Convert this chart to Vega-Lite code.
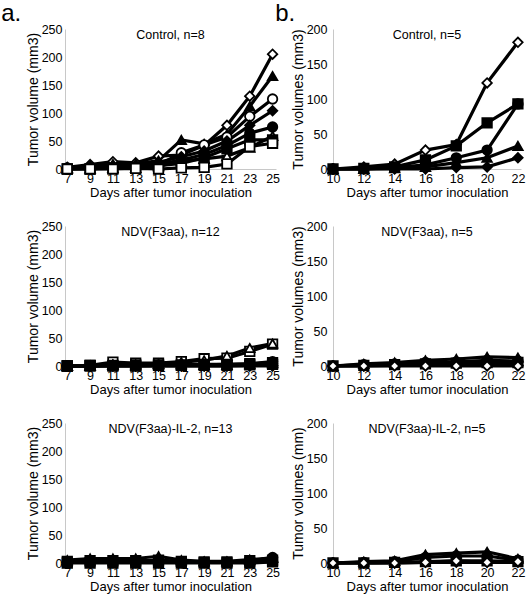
{
  "$schema": "https://vega.github.io/schema/vega-lite/v6.json",
  "padding": {"left": 1, "top": 2, "right": 0, "bottom": 0},
  "config": {
    "font": "Liberation Sans",
    "view": {"stroke": null},
    "axis": {"grid": false, "ticks": false, "domainColor": "#c8c8c8", "domainWidth": 1, "labelFontSize": 12.5, "titleFontSize": 13, "titleFontWeight": "normal", "labelColor": "black", "titleColor": "black", "labelFlush": false, "labelPadding": 3, "titlePadding": 2, "labelFont": "Liberation Sans", "titleFont": "Liberation Sans"},
    "axisY": {"titleFontSize": 14, "titlePadding": 1}
  },
  "spacing": -6,
  "datasets": {
    "a1": [
      {"mouse": "1", "marker": "open diamond", "day": 7, "vol": 3}, {"mouse": "1", "marker": "open diamond", "day": 9, "vol": 8}, {"mouse": "1", "marker": "open diamond", "day": 11, "vol": 13}, {"mouse": "1", "marker": "open diamond", "day": 13, "vol": 11}, {"mouse": "1", "marker": "open diamond", "day": 15, "vol": 23}, {"mouse": "1", "marker": "open diamond", "day": 17, "vol": 25}, {"mouse": "1", "marker": "open diamond", "day": 19, "vol": 42}, {"mouse": "1", "marker": "open diamond", "day": 21, "vol": 78}, {"mouse": "1", "marker": "open diamond", "day": 23, "vol": 130}, {"mouse": "1", "marker": "open diamond", "day": 25, "vol": 205},
      {"mouse": "2", "marker": "filled triangle", "day": 7, "vol": 2}, {"mouse": "2", "marker": "filled triangle", "day": 9, "vol": 6}, {"mouse": "2", "marker": "filled triangle", "day": 11, "vol": 9}, {"mouse": "2", "marker": "filled triangle", "day": 13, "vol": 9}, {"mouse": "2", "marker": "filled triangle", "day": 15, "vol": 15}, {"mouse": "2", "marker": "filled triangle", "day": 17, "vol": 52}, {"mouse": "2", "marker": "filled triangle", "day": 19, "vol": 45}, {"mouse": "2", "marker": "filled triangle", "day": 21, "vol": 62}, {"mouse": "2", "marker": "filled triangle", "day": 23, "vol": 112}, {"mouse": "2", "marker": "filled triangle", "day": 25, "vol": 166},
      {"mouse": "3", "marker": "open circle", "day": 7, "vol": 2}, {"mouse": "3", "marker": "open circle", "day": 9, "vol": 3}, {"mouse": "3", "marker": "open circle", "day": 11, "vol": 3}, {"mouse": "3", "marker": "open circle", "day": 13, "vol": 4}, {"mouse": "3", "marker": "open circle", "day": 15, "vol": 7}, {"mouse": "3", "marker": "open circle", "day": 17, "vol": 29}, {"mouse": "3", "marker": "open circle", "day": 19, "vol": 43}, {"mouse": "3", "marker": "open circle", "day": 21, "vol": 57}, {"mouse": "3", "marker": "open circle", "day": 23, "vol": 94}, {"mouse": "3", "marker": "open circle", "day": 25, "vol": 125},
      {"mouse": "4", "marker": "filled diamond", "day": 7, "vol": 1}, {"mouse": "4", "marker": "filled diamond", "day": 9, "vol": 3}, {"mouse": "4", "marker": "filled diamond", "day": 11, "vol": 5}, {"mouse": "4", "marker": "filled diamond", "day": 13, "vol": 6}, {"mouse": "4", "marker": "filled diamond", "day": 15, "vol": 12}, {"mouse": "4", "marker": "filled diamond", "day": 17, "vol": 22}, {"mouse": "4", "marker": "filled diamond", "day": 19, "vol": 32}, {"mouse": "4", "marker": "filled diamond", "day": 21, "vol": 50}, {"mouse": "4", "marker": "filled diamond", "day": 23, "vol": 78}, {"mouse": "4", "marker": "filled diamond", "day": 25, "vol": 104},
      {"mouse": "5", "marker": "filled circle", "day": 7, "vol": 0}, {"mouse": "5", "marker": "filled circle", "day": 9, "vol": 1}, {"mouse": "5", "marker": "filled circle", "day": 11, "vol": 2}, {"mouse": "5", "marker": "filled circle", "day": 13, "vol": 3}, {"mouse": "5", "marker": "filled circle", "day": 15, "vol": 9}, {"mouse": "5", "marker": "filled circle", "day": 17, "vol": 16}, {"mouse": "5", "marker": "filled circle", "day": 19, "vol": 26}, {"mouse": "5", "marker": "filled circle", "day": 21, "vol": 42}, {"mouse": "5", "marker": "filled circle", "day": 23, "vol": 64}, {"mouse": "5", "marker": "filled circle", "day": 25, "vol": 75},
      {"mouse": "6", "marker": "open triangle", "day": 7, "vol": 0}, {"mouse": "6", "marker": "open triangle", "day": 9, "vol": 1}, {"mouse": "6", "marker": "open triangle", "day": 11, "vol": 2}, {"mouse": "6", "marker": "open triangle", "day": 13, "vol": 2}, {"mouse": "6", "marker": "open triangle", "day": 15, "vol": 5}, {"mouse": "6", "marker": "open triangle", "day": 17, "vol": 14}, {"mouse": "6", "marker": "open triangle", "day": 19, "vol": 18}, {"mouse": "6", "marker": "open triangle", "day": 21, "vol": 23}, {"mouse": "6", "marker": "open triangle", "day": 23, "vol": 38}, {"mouse": "6", "marker": "open triangle", "day": 25, "vol": 59},
      {"mouse": "7", "marker": "filled square", "day": 7, "vol": 0}, {"mouse": "7", "marker": "filled square", "day": 9, "vol": 0}, {"mouse": "7", "marker": "filled square", "day": 11, "vol": 1}, {"mouse": "7", "marker": "filled square", "day": 13, "vol": 2}, {"mouse": "7", "marker": "filled square", "day": 15, "vol": 6}, {"mouse": "7", "marker": "filled square", "day": 17, "vol": 10}, {"mouse": "7", "marker": "filled square", "day": 19, "vol": 20}, {"mouse": "7", "marker": "filled square", "day": 21, "vol": 36}, {"mouse": "7", "marker": "filled square", "day": 23, "vol": 52}, {"mouse": "7", "marker": "filled square", "day": 25, "vol": 52},
      {"mouse": "8", "marker": "open square", "day": 7, "vol": 0}, {"mouse": "8", "marker": "open square", "day": 9, "vol": 0}, {"mouse": "8", "marker": "open square", "day": 11, "vol": 0}, {"mouse": "8", "marker": "open square", "day": 13, "vol": 1}, {"mouse": "8", "marker": "open square", "day": 15, "vol": 0}, {"mouse": "8", "marker": "open square", "day": 17, "vol": 2}, {"mouse": "8", "marker": "open square", "day": 19, "vol": 3}, {"mouse": "8", "marker": "open square", "day": 21, "vol": 9}, {"mouse": "8", "marker": "open square", "day": 23, "vol": 40}, {"mouse": "8", "marker": "open square", "day": 25, "vol": 46}
    ],
    "a2": [
      {"mouse": "1", "marker": "open diamond", "day": 7, "vol": 0}, {"mouse": "1", "marker": "open diamond", "day": 9, "vol": 0}, {"mouse": "1", "marker": "open diamond", "day": 11, "vol": 0}, {"mouse": "1", "marker": "open diamond", "day": 13, "vol": 0}, {"mouse": "1", "marker": "open diamond", "day": 15, "vol": 0}, {"mouse": "1", "marker": "open diamond", "day": 17, "vol": 0}, {"mouse": "1", "marker": "open diamond", "day": 19, "vol": 0}, {"mouse": "1", "marker": "open diamond", "day": 21, "vol": 0}, {"mouse": "1", "marker": "open diamond", "day": 23, "vol": 0}, {"mouse": "1", "marker": "open diamond", "day": 25, "vol": 0},
      {"mouse": "2", "marker": "open circle", "day": 7, "vol": 0}, {"mouse": "2", "marker": "open circle", "day": 9, "vol": 0}, {"mouse": "2", "marker": "open circle", "day": 11, "vol": 1}, {"mouse": "2", "marker": "open circle", "day": 13, "vol": 1}, {"mouse": "2", "marker": "open circle", "day": 15, "vol": 1}, {"mouse": "2", "marker": "open circle", "day": 17, "vol": 2}, {"mouse": "2", "marker": "open circle", "day": 19, "vol": 2}, {"mouse": "2", "marker": "open circle", "day": 21, "vol": 3}, {"mouse": "2", "marker": "open circle", "day": 23, "vol": 3}, {"mouse": "2", "marker": "open circle", "day": 25, "vol": 4},
      {"mouse": "3", "marker": "open square", "day": 7, "vol": 0}, {"mouse": "3", "marker": "open square", "day": 9, "vol": 1}, {"mouse": "3", "marker": "open square", "day": 11, "vol": 7}, {"mouse": "3", "marker": "open square", "day": 13, "vol": 5}, {"mouse": "3", "marker": "open square", "day": 15, "vol": 5}, {"mouse": "3", "marker": "open square", "day": 17, "vol": 8}, {"mouse": "3", "marker": "open square", "day": 19, "vol": 13}, {"mouse": "3", "marker": "open square", "day": 21, "vol": 14}, {"mouse": "3", "marker": "open square", "day": 23, "vol": 26}, {"mouse": "3", "marker": "open square", "day": 25, "vol": 39},
      {"mouse": "4", "marker": "open triangle", "day": 7, "vol": 0}, {"mouse": "4", "marker": "open triangle", "day": 9, "vol": 1}, {"mouse": "4", "marker": "open triangle", "day": 11, "vol": 3}, {"mouse": "4", "marker": "open triangle", "day": 13, "vol": 3}, {"mouse": "4", "marker": "open triangle", "day": 15, "vol": 4}, {"mouse": "4", "marker": "open triangle", "day": 17, "vol": 7}, {"mouse": "4", "marker": "open triangle", "day": 19, "vol": 10}, {"mouse": "4", "marker": "open triangle", "day": 21, "vol": 18}, {"mouse": "4", "marker": "open triangle", "day": 23, "vol": 32}, {"mouse": "4", "marker": "open triangle", "day": 25, "vol": 40},
      {"mouse": "5", "marker": "filled triangle", "day": 7, "vol": 0}, {"mouse": "5", "marker": "filled triangle", "day": 9, "vol": 0}, {"mouse": "5", "marker": "filled triangle", "day": 11, "vol": 2}, {"mouse": "5", "marker": "filled triangle", "day": 13, "vol": 1}, {"mouse": "5", "marker": "filled triangle", "day": 15, "vol": 3}, {"mouse": "5", "marker": "filled triangle", "day": 17, "vol": 3}, {"mouse": "5", "marker": "filled triangle", "day": 19, "vol": 2}, {"mouse": "5", "marker": "filled triangle", "day": 21, "vol": 2}, {"mouse": "5", "marker": "filled triangle", "day": 23, "vol": 3}, {"mouse": "5", "marker": "filled triangle", "day": 25, "vol": 5},
      {"mouse": "6", "marker": "filled diamond", "day": 7, "vol": 0}, {"mouse": "6", "marker": "filled diamond", "day": 9, "vol": 0}, {"mouse": "6", "marker": "filled diamond", "day": 11, "vol": 0}, {"mouse": "6", "marker": "filled diamond", "day": 13, "vol": 0}, {"mouse": "6", "marker": "filled diamond", "day": 15, "vol": 0}, {"mouse": "6", "marker": "filled diamond", "day": 17, "vol": 0}, {"mouse": "6", "marker": "filled diamond", "day": 19, "vol": 0}, {"mouse": "6", "marker": "filled diamond", "day": 21, "vol": 0}, {"mouse": "6", "marker": "filled diamond", "day": 23, "vol": 1}, {"mouse": "6", "marker": "filled diamond", "day": 25, "vol": 1},
      {"mouse": "7", "marker": "filled circle", "day": 7, "vol": 0}, {"mouse": "7", "marker": "filled circle", "day": 9, "vol": 0}, {"mouse": "7", "marker": "filled circle", "day": 11, "vol": 1}, {"mouse": "7", "marker": "filled circle", "day": 13, "vol": 1}, {"mouse": "7", "marker": "filled circle", "day": 15, "vol": 1}, {"mouse": "7", "marker": "filled circle", "day": 17, "vol": 1}, {"mouse": "7", "marker": "filled circle", "day": 19, "vol": 2}, {"mouse": "7", "marker": "filled circle", "day": 21, "vol": 2}, {"mouse": "7", "marker": "filled circle", "day": 23, "vol": 4}, {"mouse": "7", "marker": "filled circle", "day": 25, "vol": 8},
      {"mouse": "8", "marker": "filled square", "day": 7, "vol": 0}, {"mouse": "8", "marker": "filled square", "day": 9, "vol": 1}, {"mouse": "8", "marker": "filled square", "day": 11, "vol": 1}, {"mouse": "8", "marker": "filled square", "day": 13, "vol": 2}, {"mouse": "8", "marker": "filled square", "day": 15, "vol": 2}, {"mouse": "8", "marker": "filled square", "day": 17, "vol": 2}, {"mouse": "8", "marker": "filled square", "day": 19, "vol": 3}, {"mouse": "8", "marker": "filled square", "day": 21, "vol": 3}, {"mouse": "8", "marker": "filled square", "day": 23, "vol": 4}, {"mouse": "8", "marker": "filled square", "day": 25, "vol": 6},
      {"mouse": "9", "marker": "filled square", "day": 7, "vol": 0}, {"mouse": "9", "marker": "filled square", "day": 9, "vol": 0}, {"mouse": "9", "marker": "filled square", "day": 11, "vol": 0}, {"mouse": "9", "marker": "filled square", "day": 13, "vol": 0}, {"mouse": "9", "marker": "filled square", "day": 15, "vol": 1}, {"mouse": "9", "marker": "filled square", "day": 17, "vol": 1}, {"mouse": "9", "marker": "filled square", "day": 19, "vol": 1}, {"mouse": "9", "marker": "filled square", "day": 21, "vol": 1}, {"mouse": "9", "marker": "filled square", "day": 23, "vol": 2}, {"mouse": "9", "marker": "filled square", "day": 25, "vol": 3}
    ],
    "a3": [
      {"mouse": "1", "marker": "filled triangle", "day": 7, "vol": 5}, {"mouse": "1", "marker": "filled triangle", "day": 9, "vol": 8}, {"mouse": "1", "marker": "filled triangle", "day": 11, "vol": 8}, {"mouse": "1", "marker": "filled triangle", "day": 13, "vol": 8}, {"mouse": "1", "marker": "filled triangle", "day": 15, "vol": 12}, {"mouse": "1", "marker": "filled triangle", "day": 17, "vol": 5}, {"mouse": "1", "marker": "filled triangle", "day": 19, "vol": 3}, {"mouse": "1", "marker": "filled triangle", "day": 21, "vol": 3}, {"mouse": "1", "marker": "filled triangle", "day": 23, "vol": 6}, {"mouse": "1", "marker": "filled triangle", "day": 25, "vol": 9},
      {"mouse": "2", "marker": "filled circle", "day": 7, "vol": 2}, {"mouse": "2", "marker": "filled circle", "day": 9, "vol": 3}, {"mouse": "2", "marker": "filled circle", "day": 11, "vol": 3}, {"mouse": "2", "marker": "filled circle", "day": 13, "vol": 3}, {"mouse": "2", "marker": "filled circle", "day": 15, "vol": 4}, {"mouse": "2", "marker": "filled circle", "day": 17, "vol": 2}, {"mouse": "2", "marker": "filled circle", "day": 19, "vol": 1}, {"mouse": "2", "marker": "filled circle", "day": 21, "vol": 1}, {"mouse": "2", "marker": "filled circle", "day": 23, "vol": 3}, {"mouse": "2", "marker": "filled circle", "day": 25, "vol": 10},
      {"mouse": "3", "marker": "filled square", "day": 7, "vol": 0}, {"mouse": "3", "marker": "filled square", "day": 9, "vol": 0}, {"mouse": "3", "marker": "filled square", "day": 11, "vol": 0}, {"mouse": "3", "marker": "filled square", "day": 13, "vol": 0}, {"mouse": "3", "marker": "filled square", "day": 15, "vol": 0}, {"mouse": "3", "marker": "filled square", "day": 17, "vol": 0}, {"mouse": "3", "marker": "filled square", "day": 19, "vol": 0}, {"mouse": "3", "marker": "filled square", "day": 21, "vol": 0}, {"mouse": "3", "marker": "filled square", "day": 23, "vol": 0}, {"mouse": "3", "marker": "filled square", "day": 25, "vol": 2},
      {"mouse": "4", "marker": "filled diamond", "day": 7, "vol": 1}, {"mouse": "4", "marker": "filled diamond", "day": 9, "vol": 1}, {"mouse": "4", "marker": "filled diamond", "day": 11, "vol": 1}, {"mouse": "4", "marker": "filled diamond", "day": 13, "vol": 1}, {"mouse": "4", "marker": "filled diamond", "day": 15, "vol": 1}, {"mouse": "4", "marker": "filled diamond", "day": 17, "vol": 1}, {"mouse": "4", "marker": "filled diamond", "day": 19, "vol": 1}, {"mouse": "4", "marker": "filled diamond", "day": 21, "vol": 1}, {"mouse": "4", "marker": "filled diamond", "day": 23, "vol": 1}, {"mouse": "4", "marker": "filled diamond", "day": 25, "vol": 3},
      {"mouse": "5", "marker": "filled square", "day": 7, "vol": 3}, {"mouse": "5", "marker": "filled square", "day": 9, "vol": 4}, {"mouse": "5", "marker": "filled square", "day": 11, "vol": 4}, {"mouse": "5", "marker": "filled square", "day": 13, "vol": 4}, {"mouse": "5", "marker": "filled square", "day": 15, "vol": 5}, {"mouse": "5", "marker": "filled square", "day": 17, "vol": 3}, {"mouse": "5", "marker": "filled square", "day": 19, "vol": 2}, {"mouse": "5", "marker": "filled square", "day": 21, "vol": 2}, {"mouse": "5", "marker": "filled square", "day": 23, "vol": 4}, {"mouse": "5", "marker": "filled square", "day": 25, "vol": 5}
    ],
    "b1": [
      {"mouse": "1", "marker": "open diamond", "day": 10, "vol": 0}, {"mouse": "1", "marker": "open diamond", "day": 12, "vol": 3}, {"mouse": "1", "marker": "open diamond", "day": 14, "vol": 7}, {"mouse": "1", "marker": "open diamond", "day": 16, "vol": 27}, {"mouse": "1", "marker": "open diamond", "day": 18, "vol": 35}, {"mouse": "1", "marker": "open diamond", "day": 20, "vol": 123}, {"mouse": "1", "marker": "open diamond", "day": 22, "vol": 181},
      {"mouse": "2", "marker": "filled square", "day": 10, "vol": 0}, {"mouse": "2", "marker": "filled square", "day": 12, "vol": 1}, {"mouse": "2", "marker": "filled square", "day": 14, "vol": 3}, {"mouse": "2", "marker": "filled square", "day": 16, "vol": 13}, {"mouse": "2", "marker": "filled square", "day": 18, "vol": 33}, {"mouse": "2", "marker": "filled square", "day": 20, "vol": 66}, {"mouse": "2", "marker": "filled square", "day": 22, "vol": 93},
      {"mouse": "3", "marker": "filled circle", "day": 10, "vol": 0}, {"mouse": "3", "marker": "filled circle", "day": 12, "vol": 0}, {"mouse": "3", "marker": "filled circle", "day": 14, "vol": 2}, {"mouse": "3", "marker": "filled circle", "day": 16, "vol": 6}, {"mouse": "3", "marker": "filled circle", "day": 18, "vol": 16}, {"mouse": "3", "marker": "filled circle", "day": 20, "vol": 27}, {"mouse": "3", "marker": "filled circle", "day": 22, "vol": 93},
      {"mouse": "4", "marker": "filled triangle", "day": 10, "vol": 0}, {"mouse": "4", "marker": "filled triangle", "day": 12, "vol": 0}, {"mouse": "4", "marker": "filled triangle", "day": 14, "vol": 1}, {"mouse": "4", "marker": "filled triangle", "day": 16, "vol": 3}, {"mouse": "4", "marker": "filled triangle", "day": 18, "vol": 9}, {"mouse": "4", "marker": "filled triangle", "day": 20, "vol": 16}, {"mouse": "4", "marker": "filled triangle", "day": 22, "vol": 33},
      {"mouse": "5", "marker": "filled diamond", "day": 10, "vol": 0}, {"mouse": "5", "marker": "filled diamond", "day": 12, "vol": 0}, {"mouse": "5", "marker": "filled diamond", "day": 14, "vol": 0}, {"mouse": "5", "marker": "filled diamond", "day": 16, "vol": 0}, {"mouse": "5", "marker": "filled diamond", "day": 18, "vol": 2}, {"mouse": "5", "marker": "filled diamond", "day": 20, "vol": 3}, {"mouse": "5", "marker": "filled diamond", "day": 22, "vol": 16}
    ],
    "b2": [
      {"mouse": "1", "marker": "filled triangle", "day": 10, "vol": 0}, {"mouse": "1", "marker": "filled triangle", "day": 12, "vol": 3}, {"mouse": "1", "marker": "filled triangle", "day": 14, "vol": 5}, {"mouse": "1", "marker": "filled triangle", "day": 16, "vol": 8}, {"mouse": "1", "marker": "filled triangle", "day": 18, "vol": 10}, {"mouse": "1", "marker": "filled triangle", "day": 20, "vol": 13}, {"mouse": "1", "marker": "filled triangle", "day": 22, "vol": 12},
      {"mouse": "2", "marker": "filled circle", "day": 10, "vol": 0}, {"mouse": "2", "marker": "filled circle", "day": 12, "vol": 2}, {"mouse": "2", "marker": "filled circle", "day": 14, "vol": 3}, {"mouse": "2", "marker": "filled circle", "day": 16, "vol": 5}, {"mouse": "2", "marker": "filled circle", "day": 18, "vol": 6}, {"mouse": "2", "marker": "filled circle", "day": 20, "vol": 8}, {"mouse": "2", "marker": "filled circle", "day": 22, "vol": 7},
      {"mouse": "3", "marker": "filled square", "day": 10, "vol": 0}, {"mouse": "3", "marker": "filled square", "day": 12, "vol": 1}, {"mouse": "3", "marker": "filled square", "day": 14, "vol": 2}, {"mouse": "3", "marker": "filled square", "day": 16, "vol": 3}, {"mouse": "3", "marker": "filled square", "day": 18, "vol": 4}, {"mouse": "3", "marker": "filled square", "day": 20, "vol": 5}, {"mouse": "3", "marker": "filled square", "day": 22, "vol": 5},
      {"mouse": "4", "marker": "filled diamond", "day": 10, "vol": 0}, {"mouse": "4", "marker": "filled diamond", "day": 12, "vol": 0}, {"mouse": "4", "marker": "filled diamond", "day": 14, "vol": 1}, {"mouse": "4", "marker": "filled diamond", "day": 16, "vol": 1}, {"mouse": "4", "marker": "filled diamond", "day": 18, "vol": 1}, {"mouse": "4", "marker": "filled diamond", "day": 20, "vol": 1}, {"mouse": "4", "marker": "filled diamond", "day": 22, "vol": 1},
      {"mouse": "5", "marker": "open diamond", "day": 10, "vol": 0}, {"mouse": "5", "marker": "open diamond", "day": 12, "vol": 0}, {"mouse": "5", "marker": "open diamond", "day": 14, "vol": 0}, {"mouse": "5", "marker": "open diamond", "day": 16, "vol": 0}, {"mouse": "5", "marker": "open diamond", "day": 18, "vol": 0}, {"mouse": "5", "marker": "open diamond", "day": 20, "vol": 0}, {"mouse": "5", "marker": "open diamond", "day": 22, "vol": 0}
    ],
    "b3": [
      {"mouse": "1", "marker": "filled triangle", "day": 10, "vol": 0}, {"mouse": "1", "marker": "filled triangle", "day": 12, "vol": 2}, {"mouse": "1", "marker": "filled triangle", "day": 14, "vol": 3}, {"mouse": "1", "marker": "filled triangle", "day": 16, "vol": 12}, {"mouse": "1", "marker": "filled triangle", "day": 18, "vol": 14}, {"mouse": "1", "marker": "filled triangle", "day": 20, "vol": 16}, {"mouse": "1", "marker": "filled triangle", "day": 22, "vol": 6},
      {"mouse": "2", "marker": "filled circle", "day": 10, "vol": 0}, {"mouse": "2", "marker": "filled circle", "day": 12, "vol": 1}, {"mouse": "2", "marker": "filled circle", "day": 14, "vol": 2}, {"mouse": "2", "marker": "filled circle", "day": 16, "vol": 8}, {"mouse": "2", "marker": "filled circle", "day": 18, "vol": 10}, {"mouse": "2", "marker": "filled circle", "day": 20, "vol": 10}, {"mouse": "2", "marker": "filled circle", "day": 22, "vol": 4},
      {"mouse": "3", "marker": "filled square", "day": 10, "vol": 0}, {"mouse": "3", "marker": "filled square", "day": 12, "vol": 0}, {"mouse": "3", "marker": "filled square", "day": 14, "vol": 1}, {"mouse": "3", "marker": "filled square", "day": 16, "vol": 2}, {"mouse": "3", "marker": "filled square", "day": 18, "vol": 3}, {"mouse": "3", "marker": "filled square", "day": 20, "vol": 3}, {"mouse": "3", "marker": "filled square", "day": 22, "vol": 2},
      {"mouse": "4", "marker": "filled diamond", "day": 10, "vol": 0}, {"mouse": "4", "marker": "filled diamond", "day": 12, "vol": 0}, {"mouse": "4", "marker": "filled diamond", "day": 14, "vol": 0}, {"mouse": "4", "marker": "filled diamond", "day": 16, "vol": 1}, {"mouse": "4", "marker": "filled diamond", "day": 18, "vol": 1}, {"mouse": "4", "marker": "filled diamond", "day": 20, "vol": 1}, {"mouse": "4", "marker": "filled diamond", "day": 22, "vol": 1},
      {"mouse": "5", "marker": "open diamond", "day": 10, "vol": 0}, {"mouse": "5", "marker": "open diamond", "day": 12, "vol": 0}, {"mouse": "5", "marker": "open diamond", "day": 14, "vol": 0}, {"mouse": "5", "marker": "open diamond", "day": 16, "vol": 1}, {"mouse": "5", "marker": "open diamond", "day": 18, "vol": 3}, {"mouse": "5", "marker": "open diamond", "day": 20, "vol": 1}, {"mouse": "5", "marker": "open diamond", "day": 22, "vol": 2}
    ]
  },
  "hconcat": [
    {
      "title": {"text": "a.", "anchor": "start", "frame": "bounds", "fontSize": 24, "fontWeight": "normal", "dx": -25, "offset": -3},
      "spacing": 20,
      "vconcat": [
        {
          "width": 211, "height": 140,
          "title": {"text": "Control, n=8", "fontSize": 12.5, "fontWeight": "normal", "offset": -18},
          "data": {"name": "a1"},
          "encoding": {
            "x": {"field": "day", "type": "quantitative", "scale": {"domain": [6.8, 25.3], "nice": false, "zero": false}, "axis": {"values": [7, 9, 11, 13, 15, 17, 19, 21, 23, 25], "title": "Days after tumor inoculation"}},
            "y": {"field": "vol", "type": "quantitative", "scale": {"domain": [0, 250], "nice": false}, "axis": {"values": [0, 50, 100, 150, 200, 250], "title": "Tumor volume (mm3)"}}
          },
          "layer": [
            {"mark": {"type": "line", "color": "black", "strokeWidth": 3.2}, "encoding": {"detail": {"field": "mouse"}}},
            {"mark": {"type": "point", "filled": true, "stroke": "black", "strokeWidth": 1.8, "size": 90, "opacity": 1},
             "encoding": {
               "shape": {"field": "marker", "type": "nominal", "legend": null, "scale": {"domain": ["open diamond", "filled diamond", "open circle", "filled circle", "open triangle", "filled triangle", "open square", "filled square"], "range": ["diamond", "diamond", "circle", "circle", "triangle-up", "triangle-up", "square", "square"]}},
               "fill": {"field": "marker", "type": "nominal", "legend": null, "scale": {"domain": ["open diamond", "filled diamond", "open circle", "filled circle", "open triangle", "filled triangle", "open square", "filled square"], "range": ["white", "black", "white", "black", "white", "black", "white", "black"]}}
             }}
          ]
        },
        {
          "width": 211, "height": 140,
          "title": {"text": "NDV(F3aa), n=12", "fontSize": 12.5, "fontWeight": "normal", "offset": -18},
          "data": {"name": "a2"},
          "encoding": {
            "x": {"field": "day", "type": "quantitative", "scale": {"domain": [6.8, 25.3], "nice": false, "zero": false}, "axis": {"values": [7, 9, 11, 13, 15, 17, 19, 21, 23, 25], "title": "Days after tumor inoculation"}},
            "y": {"field": "vol", "type": "quantitative", "scale": {"domain": [0, 250], "nice": false}, "axis": {"values": [0, 50, 100, 150, 200, 250], "title": "Tumor volume (mm3)"}}
          },
          "layer": [
            {"mark": {"type": "line", "color": "black", "strokeWidth": 3.2}, "encoding": {"detail": {"field": "mouse"}}},
            {"mark": {"type": "point", "filled": true, "stroke": "black", "strokeWidth": 1.8, "size": 90, "opacity": 1},
             "encoding": {
               "shape": {"field": "marker", "type": "nominal", "legend": null, "scale": {"domain": ["open diamond", "filled diamond", "open circle", "filled circle", "open triangle", "filled triangle", "open square", "filled square"], "range": ["diamond", "diamond", "circle", "circle", "triangle-up", "triangle-up", "square", "square"]}},
               "fill": {"field": "marker", "type": "nominal", "legend": null, "scale": {"domain": ["open diamond", "filled diamond", "open circle", "filled circle", "open triangle", "filled triangle", "open square", "filled square"], "range": ["white", "black", "white", "black", "white", "black", "white", "black"]}}
             }}
          ]
        },
        {
          "width": 211, "height": 140,
          "title": {"text": "NDV(F3aa)-IL-2, n=13", "fontSize": 12.5, "fontWeight": "normal", "offset": -18},
          "data": {"name": "a3"},
          "encoding": {
            "x": {"field": "day", "type": "quantitative", "scale": {"domain": [6.8, 25.3], "nice": false, "zero": false}, "axis": {"values": [7, 9, 11, 13, 15, 17, 19, 21, 23, 25], "title": "Days after tumor inoculation"}},
            "y": {"field": "vol", "type": "quantitative", "scale": {"domain": [0, 250], "nice": false}, "axis": {"values": [0, 50, 100, 150, 200, 250], "title": "Tumor volume (mm3)"}}
          },
          "layer": [
            {"mark": {"type": "line", "color": "black", "strokeWidth": 3.2}, "encoding": {"detail": {"field": "mouse"}}},
            {"mark": {"type": "point", "filled": true, "stroke": "black", "strokeWidth": 1.8, "size": 90, "opacity": 1},
             "encoding": {
               "shape": {"field": "marker", "type": "nominal", "legend": null, "scale": {"domain": ["open diamond", "filled diamond", "open circle", "filled circle", "open triangle", "filled triangle", "open square", "filled square"], "range": ["diamond", "diamond", "circle", "circle", "triangle-up", "triangle-up", "square", "square"]}},
               "fill": {"field": "marker", "type": "nominal", "legend": null, "scale": {"domain": ["open diamond", "filled diamond", "open circle", "filled circle", "open triangle", "filled triangle", "open square", "filled square"], "range": ["white", "black", "white", "black", "white", "black", "white", "black"]}}
             }}
          ]
        }
      ]
    },
    {
      "title": {"text": "b.", "anchor": "start", "frame": "bounds", "fontSize": 24, "fontWeight": "normal", "dx": -16, "offset": -3},
      "spacing": 20,
      "vconcat": [
        {
          "width": 188, "height": 140,
          "title": {"text": "Control, n=5", "fontSize": 12.5, "fontWeight": "normal", "offset": -18},
          "data": {"name": "b1"},
          "encoding": {
            "x": {"field": "day", "type": "quantitative", "scale": {"domain": [10, 22.2], "nice": false, "zero": false}, "axis": {"values": [10, 12, 14, 16, 18, 20, 22], "title": "Days after tumor inoculation"}},
            "y": {"field": "vol", "type": "quantitative", "scale": {"domain": [0, 200], "nice": false}, "axis": {"values": [0, 50, 100, 150, 200], "title": "Tumor volumes (mm3)", "labelPadding": 6}}
          },
          "layer": [
            {"mark": {"type": "line", "color": "black", "strokeWidth": 3.2}, "encoding": {"detail": {"field": "mouse"}}},
            {"mark": {"type": "point", "filled": true, "stroke": "black", "strokeWidth": 1.8, "size": 90, "opacity": 1},
             "encoding": {
               "shape": {"field": "marker", "type": "nominal", "legend": null, "scale": {"domain": ["open diamond", "filled diamond", "open circle", "filled circle", "open triangle", "filled triangle", "open square", "filled square"], "range": ["diamond", "diamond", "circle", "circle", "triangle-up", "triangle-up", "square", "square"]}},
               "fill": {"field": "marker", "type": "nominal", "legend": null, "scale": {"domain": ["open diamond", "filled diamond", "open circle", "filled circle", "open triangle", "filled triangle", "open square", "filled square"], "range": ["white", "black", "white", "black", "white", "black", "white", "black"]}}
             }}
          ]
        },
        {
          "width": 188, "height": 140,
          "title": {"text": "NDV(F3aa), n=5", "fontSize": 12.5, "fontWeight": "normal", "offset": -18},
          "data": {"name": "b2"},
          "encoding": {
            "x": {"field": "day", "type": "quantitative", "scale": {"domain": [10, 22.2], "nice": false, "zero": false}, "axis": {"values": [10, 12, 14, 16, 18, 20, 22], "title": "Days after tumor inoculation"}},
            "y": {"field": "vol", "type": "quantitative", "scale": {"domain": [0, 200], "nice": false}, "axis": {"values": [0, 50, 100, 150, 200], "title": "Tumor volumes (mm3)", "labelPadding": 6}}
          },
          "layer": [
            {"mark": {"type": "line", "color": "black", "strokeWidth": 3.2}, "encoding": {"detail": {"field": "mouse"}}},
            {"mark": {"type": "point", "filled": true, "stroke": "black", "strokeWidth": 1.8, "size": 90, "opacity": 1},
             "encoding": {
               "shape": {"field": "marker", "type": "nominal", "legend": null, "scale": {"domain": ["open diamond", "filled diamond", "open circle", "filled circle", "open triangle", "filled triangle", "open square", "filled square"], "range": ["diamond", "diamond", "circle", "circle", "triangle-up", "triangle-up", "square", "square"]}},
               "fill": {"field": "marker", "type": "nominal", "legend": null, "scale": {"domain": ["open diamond", "filled diamond", "open circle", "filled circle", "open triangle", "filled triangle", "open square", "filled square"], "range": ["white", "black", "white", "black", "white", "black", "white", "black"]}}
             }}
          ]
        },
        {
          "width": 188, "height": 140,
          "title": {"text": "NDV(F3aa)-IL-2, n=5", "fontSize": 12.5, "fontWeight": "normal", "offset": -18},
          "data": {"name": "b3"},
          "encoding": {
            "x": {"field": "day", "type": "quantitative", "scale": {"domain": [10, 22.2], "nice": false, "zero": false}, "axis": {"values": [10, 12, 14, 16, 18, 20, 22], "title": "Days after tumor inoculation"}},
            "y": {"field": "vol", "type": "quantitative", "scale": {"domain": [0, 200], "nice": false}, "axis": {"values": [0, 50, 100, 150, 200], "title": "Tumor volumes (mm)", "labelPadding": 6}}
          },
          "layer": [
            {"mark": {"type": "line", "color": "black", "strokeWidth": 3.2}, "encoding": {"detail": {"field": "mouse"}}},
            {"mark": {"type": "point", "filled": true, "stroke": "black", "strokeWidth": 1.8, "size": 90, "opacity": 1},
             "encoding": {
               "shape": {"field": "marker", "type": "nominal", "legend": null, "scale": {"domain": ["open diamond", "filled diamond", "open circle", "filled circle", "open triangle", "filled triangle", "open square", "filled square"], "range": ["diamond", "diamond", "circle", "circle", "triangle-up", "triangle-up", "square", "square"]}},
               "fill": {"field": "marker", "type": "nominal", "legend": null, "scale": {"domain": ["open diamond", "filled diamond", "open circle", "filled circle", "open triangle", "filled triangle", "open square", "filled square"], "range": ["white", "black", "white", "black", "white", "black", "white", "black"]}}
             }}
          ]
        }
      ]
    }
  ]
}
